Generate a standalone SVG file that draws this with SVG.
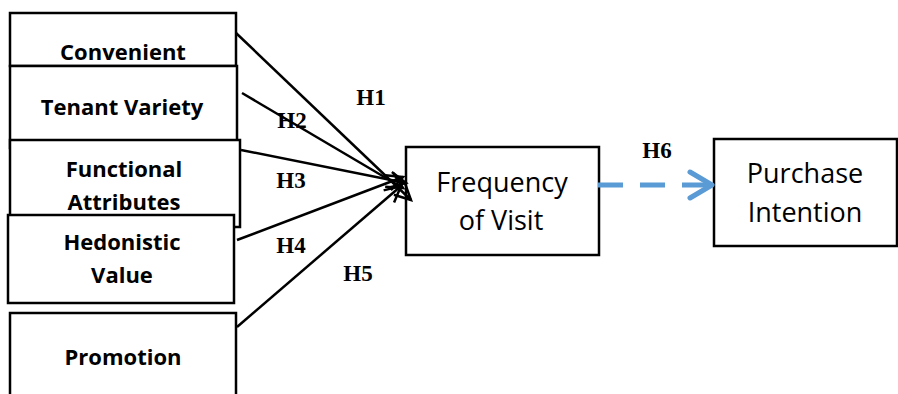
<svg xmlns="http://www.w3.org/2000/svg" width="898" height="394" viewBox="0 0 898 394">
<style>
.box{fill:#fff;stroke:#000;stroke-width:2.5}
.lbl{font-family:"Open Sans","Liberation Sans",sans-serif;font-weight:bold;font-size:22px;text-anchor:middle;fill:#000}
.big{font-family:"Open Sans","Liberation Sans",sans-serif;font-size:27px;text-anchor:middle;fill:#000}
.h{font-family:"Liberation Serif","Times New Roman",serif;font-weight:bold;font-size:23px;text-anchor:middle;fill:#000}
.ln{stroke:#000;stroke-width:2.5;fill:none;marker-end:url(#ah)}
</style>
<defs>
<marker id="ah" markerUnits="userSpaceOnUse" markerWidth="22" markerHeight="22" viewBox="0 0 22 22" refX="18" refY="11" orient="auto">
<path d="M2,3 L18,11 L2,19" fill="none" stroke="#000" stroke-width="2.5"/>
</marker>
</defs>
<g id="convenient"><rect class="box" x="10" y="13" width="226" height="53"/><text class="lbl" x="123" y="60">Convenient</text></g>
<g id="tenant"><rect class="box" x="10" y="66" width="227" height="82"/><text class="lbl" x="122" y="115">Tenant Variety</text></g>
<g id="functional"><rect class="box" x="10" y="140" width="230" height="87"/><text class="lbl" x="124" y="177">Functional</text><text class="lbl" x="124" y="210">Attributes</text></g>
<g id="hedonistic"><rect class="box" x="8" y="215" width="226" height="88"/><text class="lbl" x="122" y="250">Hedonistic</text><text class="lbl" x="122" y="283">Value</text></g>
<g id="promotion"><rect class="box" x="10" y="313" width="226" height="90"/><text class="lbl" x="123" y="365">Promotion</text></g>
<g id="frequency"><rect class="box" x="406" y="147" width="193" height="108"/><text class="big" x="502" y="192">Frequency</text><text class="big" x="501" y="230">of Visit</text></g>
<g id="purchase"><rect class="box" x="714" y="139" width="183" height="107"/><text class="big" x="805" y="183">Purchase</text><text class="big" x="805" y="222">Intention</text></g>
<g id="connectors">
<line class="ln" x1="236" y1="33" x2="411" y2="200"/>
<line class="ln" x1="242" y1="93" x2="403" y2="188"/>
<line class="ln" x1="241" y1="150" x2="406" y2="183"/>
<line class="ln" x1="237" y1="240" x2="403" y2="177"/>
<line class="ln" x1="237" y1="327" x2="401" y2="186"/>
<line x1="598" y1="185" x2="711" y2="185" stroke="#5B9BD5" stroke-width="5" stroke-dasharray="25 17"/>
<path d="M690,172 L712,185 L690,198" fill="none" stroke="#5B9BD5" stroke-width="5" stroke-linecap="round" stroke-linejoin="round"/>
</g>
<g id="labels">
<text class="h" x="371" y="105">H1</text>
<text class="h" x="292" y="128">H2</text>
<text class="h" x="291" y="188">H3</text>
<text class="h" x="291" y="253">H4</text>
<text class="h" x="358" y="281">H5</text>
<text class="h" x="657" y="158">H6</text>
</g>
</svg>
